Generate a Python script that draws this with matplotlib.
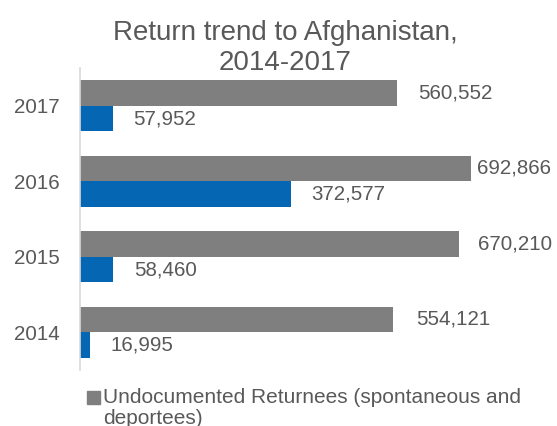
import matplotlib
matplotlib.use("Agg")
import matplotlib.pyplot as plt
from matplotlib.patches import Rectangle
import numpy as np

years = ["2014", "2015", "2016", "2017"]
undocumented = [554121, 670210, 692866, 560552]
documented = [16995, 58460, 372577, 57952]
legend_label = "Undocumented Returnees (spontaneous and"
legend_label2 = "deportees)"

# label offsets in pixels (as placed in the original)
gray_off = [23, 19, 6, 21]
blue_off = [21, 21, 21, 20]

W, H = 557, 426
plt.rcParams['font.family'] = ['Liberation Sans', 'DejaVu Sans']
txt = "#595959"

fig = plt.figure(figsize=(W / 100, H / 100), dpi=100)
ax = fig.add_axes([80 / W, 1 - 370 / H, 452 / W, 302 / H])

y = np.arange(len(years))
bh = 0.338
ax.barh(y + bh / 2, undocumented, height=bh, color="#7F7F7F")
ax.barh(y - bh / 2, documented, height=bh, color="#0567B4")

for i in range(len(years)):
    ax.annotate(f"{undocumented[i]:,}", (undocumented[i], y[i] + bh / 2),
                xytext=(gray_off[i] * 0.72, 0), textcoords="offset points",
                va="center", ha="left", fontsize=14.8, color=txt, annotation_clip=False)
    ax.annotate(f"{documented[i]:,}", (documented[i], y[i] - bh / 2),
                xytext=(blue_off[i] * 0.72, 0), textcoords="offset points",
                va="center", ha="left", fontsize=14.8, color=txt, annotation_clip=False)

ax.set_xlim(0, 800000)
ax.set_ylim(-0.5, 3.5)
ax.set_yticks(y)
ax.set_yticklabels(years, fontsize=14.8, color=txt)
ax.tick_params(axis="y", length=0, pad=14.4)
ax.set_xticks([])
for s in ["top", "right", "bottom"]:
    ax.spines[s].set_visible(False)
ax.spines["left"].set_color("#D9D9D9")
ax.spines["left"].set_linewidth(1.2)

fig.text(285 / W, 1 - 70 / H, "Return trend to Afghanistan,\n2014-2017",
         ha="center", va="baseline", multialignment="center",
         fontsize=20, color=txt)

# legend (only the grey series is visible in the original)
fig.add_artist(Rectangle((87 / W, 1 - 404 / H), 13 / W, 13 / H,
                         transform=fig.transFigure, color="#7F7F7F"))
fig.text(103 / W, 1 - 403 / H, legend_label, ha="left", va="baseline",
         fontsize=15, color=txt)
fig.text(103 / W, 1 - 424 / H, legend_label2, ha="left", va="baseline",
         fontsize=15, color=txt)

fig.savefig("out.png", dpi=100)
